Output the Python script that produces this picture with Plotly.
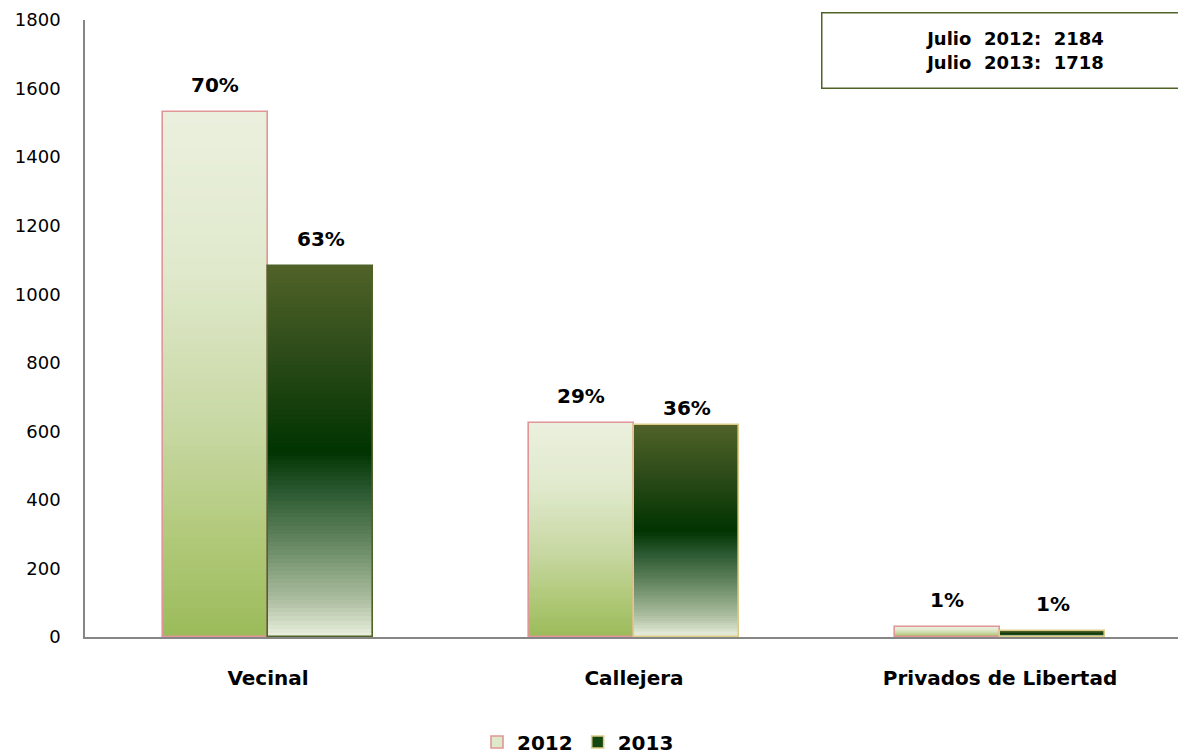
import plotly.graph_objects as go

categories = ["Vecinal", "Callejera", "Privados de Libertad"]
years = ["2012", "2013"]
values_2012 = [1531, 624, 29]
values_2013 = [1082, 619, 17]
labels_2012 = ["70%", "29%", "1%"]
labels_2013 = ["63%", "36%", "1%"]
totals = [2184, 1718]
y_ticks = [0, 200, 400, 600, 800, 1000, 1200, 1400, 1600, 1800]

FONT = "DejaVu Sans"
N = 90
W = 0.288
xs = list(range(len(categories)))

# page body has an 8px offset: figure is sized to fill the remaining window
FIG_W, FIG_H = 1178, 747

# gradient stops, t=0 top of bar, t=1 bottom
stops_2012 = [(0.0, (235, 240, 222)), (0.3, (224, 233, 204)), (0.6, (200, 216, 163)),
              (0.8, (178, 202, 124)), (1.0, (155, 187, 89))]
stops_2013 = [(0.0, (80, 98, 40)), (0.25, (42, 74, 24)), (0.5, (0, 51, 0)),
              (0.6, (40, 86, 46)), (0.75, (102, 136, 98)), (0.9, (172, 190, 160)),
              (1.0, (236, 241, 224))]


def grad(stops, t):
    for (t0, c0), (t1, c1) in zip(stops[:-1], stops[1:]):
        if t0 <= t <= t1:
            f = (t - t0) / (t1 - t0) if t1 > t0 else 0
            return "rgb(%d,%d,%d)" % tuple(round(a + (b - a) * f) for a, b in zip(c0, c1))
    return "rgb(%d,%d,%d)" % stops[-1][1]


fig = go.Figure()

series = [
    (values_2012, stops_2012, -W, ["rgb(224,150,150)"] * 3),
    (values_2013, stops_2013, 0.0, ["rgb(79,98,40)", "rgb(221,204,136)", "rgb(221,204,136)"]),
]

for vals, stops, off, lines in series:
    # tallest first, shorter bars drawn on top -> smooth vertical gradient
    for k in range(N - 1, -1, -1):
        t = 1 - (k + 0.5) / N  # k=0 bottom
        c = grad(stops, t)
        fig.add_trace(go.Bar(
            x=xs, y=[v * (k + 1) / N for v in vals],
            width=W, offset=off,
            marker=dict(color=c, line=dict(width=0)),
            showlegend=False, hoverinfo="skip"))
    fig.add_trace(go.Bar(
        x=xs, y=vals, width=W, offset=off,
        marker=dict(color="rgba(0,0,0,0)", line=dict(color=lines, width=1.6)),
        showlegend=False, hoverinfo="skip"))

# legend entries
fig.add_trace(go.Bar(x=[None], y=[None], name="<b>%s</b>" % years[0],
                     marker=dict(color="rgb(222,232,202)", line=dict(color="rgb(224,150,150)", width=1.6))))
fig.add_trace(go.Bar(x=[None], y=[None], name="<b>%s</b>" % years[1],
                     marker=dict(color="rgb(20,70,15)", line=dict(color="rgb(221,204,136)", width=1.6))))

shifts_2012 = [13, 13, 13]
shifts_2013 = [13, 3, 13]
for vals, labs, off, shifts in [(values_2012, labels_2012, -W, shifts_2012),
                                (values_2013, labels_2013, 0.0, shifts_2013)]:
    for i, (v, lab) in enumerate(zip(vals, labs)):
        fig.add_annotation(x=xs[i] + off + W / 2, y=v, text="<b>%s</b>" % lab,
                           showarrow=False, yanchor="bottom", yshift=shifts[i],
                           font=dict(family=FONT, size=20, color="black"))

L, T, R, B = 77, 12, 3, 118
PW, PH = FIG_W - L - R, FIG_H - T - B

box_text = "<br>".join("<b>Julio\u00a0 %s:\u00a0 %d</b>" % (y, t) for y, t in zip(years, totals))
fig.add_annotation(xref="paper", yref="paper", x=(1006 - L) / PW, y=(PH - 30.5) / PH,
                   xanchor="center", yanchor="middle", text=box_text, showarrow=False,
                   width=382, height=72, bordercolor="rgb(79,98,40)", borderwidth=1.5,
                   bgcolor="white", font=dict(family=FONT, size=18, color="black"), align="center")

fig.update_layout(
    width=FIG_W, height=FIG_H,
    margin=dict(l=L, r=R, t=T, b=B, autoexpand=False),
    paper_bgcolor="white", plot_bgcolor="white",
    barmode="overlay", bargap=0,
    font=dict(family=FONT, size=18, color="black"),
    legend=dict(orientation="h", xref="container", yref="container",
                x=570 / FIG_W, y=1 - 734 / FIG_H,
                xanchor="center", yanchor="middle",
                font=dict(family=FONT, size=20, color="black"), itemwidth=30,
                traceorder="normal"),
    xaxis=dict(range=[-0.5, 2.5], tickvals=xs, automargin=False,
               ticktext=["<b>%s</b>" % c for c in categories],
               showline=True, linecolor="rgb(134,134,134)", linewidth=1.5,
               showgrid=False, zeroline=False, ticks="", ticklabelstandoff=22,
               tickfont=dict(family=FONT, size=20, color="black")),
    yaxis=dict(range=[0, 1800], tickvals=y_ticks, showline=True, automargin=False,
               linecolor="rgb(134,134,134)", linewidth=1.5, showgrid=False,
               zeroline=False, ticks="", ticklabelstandoff=19,
               tickfont=dict(family=FONT, size=18, color="black")),
)

fig.write_html("out.html")
